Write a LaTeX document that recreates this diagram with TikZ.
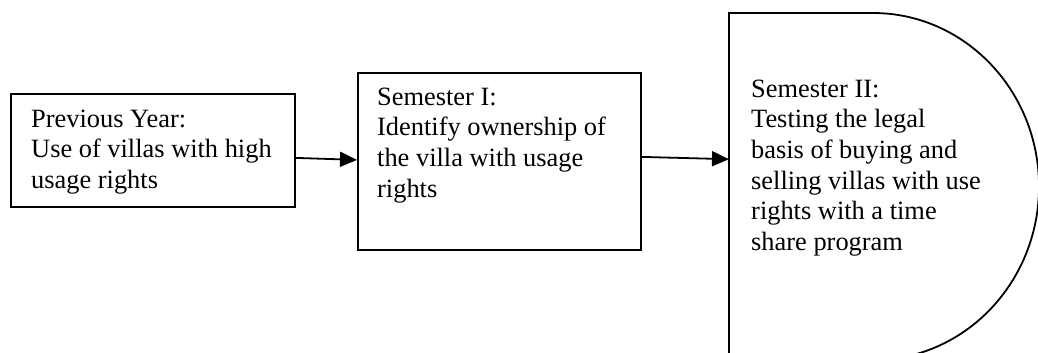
\documentclass[tikz,border=0pt]{standalone}
\usepackage{fontspec}
\setmainfont{Liberation Serif}
\usetikzlibrary{arrows.meta}
\tikzset{
  boxshape/.style={draw, line width=1.8pt, inner sep=0pt, anchor=north west},
  txt/.style={anchor=north west, inner sep=0pt, align=left, font=\fontsize{26.4}{30.6}\selectfont},
  conn/.style={line width=1.8pt, -{Triangle[length=17pt,width=15pt]}},
}
\newcommand{\fs}{\rule{0pt}{22pt}}
\begin{document}
\begin{tikzpicture}[x=1pt,y=1pt]
\useasboundingbox (0,0) rectangle (1038,-353);
\clip (0,0) rectangle (1038,-353);
\node[boxshape, minimum width=284pt, minimum height=113pt] (b1) at (10,-93) {};
\node[boxshape, minimum width=283pt, minimum height=177pt] (b2) at (357,-72) {};
\node[anchor=north west, inner sep=0pt, minimum width=310pt, minimum height=347pt] (s3) at (729,-13) {};
\draw[line width=1.8pt] (s3.north west) -- (873,-13)
  arc[start angle=90, end angle=-90, x radius=166, y radius=173.5]
  -- (s3.south west) -- cycle;
\node[txt] (t1) at (31,-105) {\fs Previous Year:\\Use of villas with high\\usage rights};
\node[txt] (t2) at (377,-83) {\fs Semester I:\\Identify ownership of\\the villa with usage\\rights};
\node[txt] (t3) at (751,-75) {\fs Semester II:\\Testing the legal\\basis of buying and\\selling villas with use\\rights with a time\\share program};
\draw[conn] ([yshift=-7.5pt]b1.east) -- ([yshift=1.5pt]b2.west);
\draw[conn] ([yshift=4.5pt]b2.east) -- ([yshift=27.5pt]s3.west);
\end{tikzpicture}
\end{document}
